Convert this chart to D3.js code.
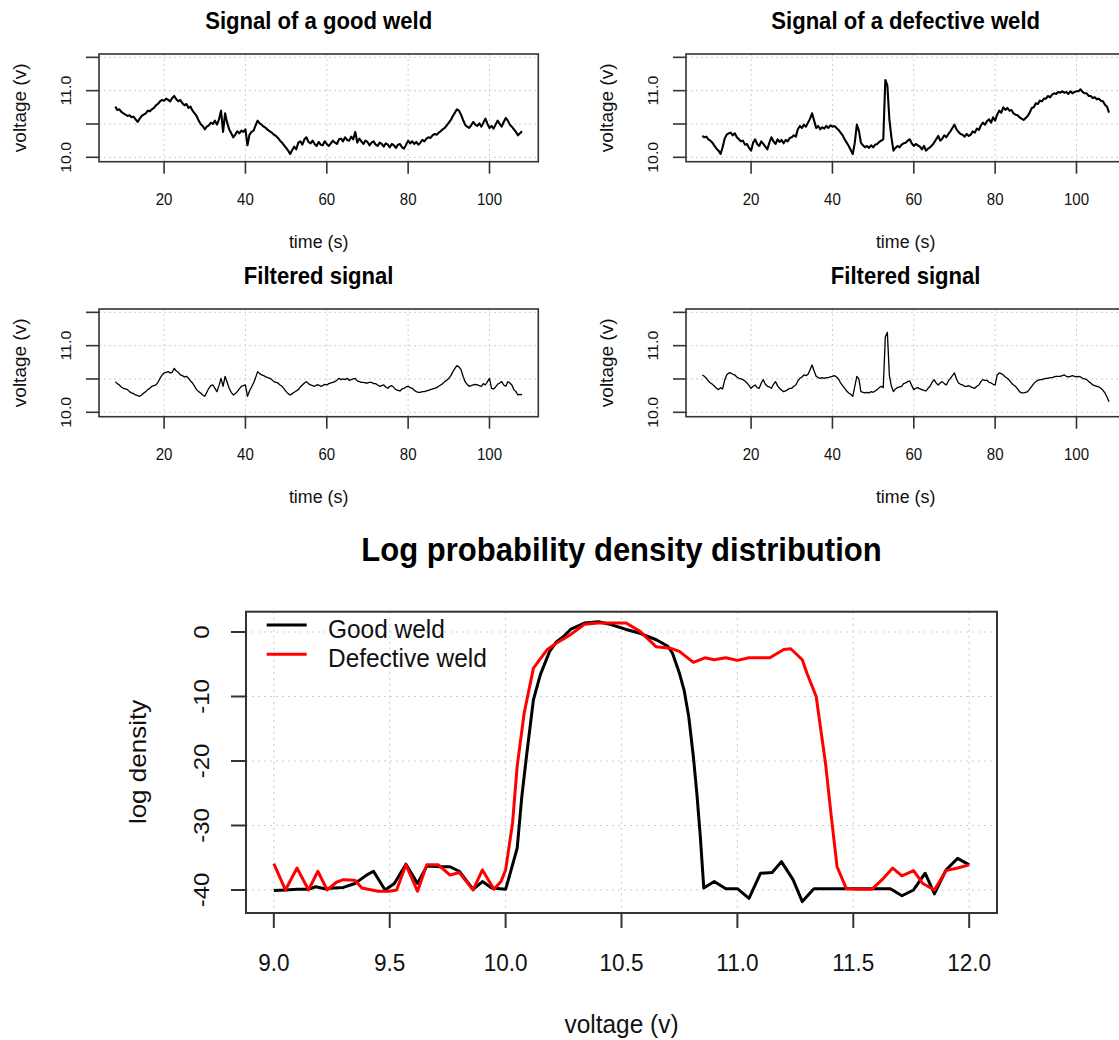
<!DOCTYPE html>
<html><head><meta charset="utf-8">
<script src="https://cdn.jsdelivr.net/npm/d3@7/dist/d3.min.js"></script>
<style>body{margin:0;background:#fff}svg{display:block}</style>
</head><body>
<script>
// ---------------- DATA ----------------
const timeStart = 8, timeStep = 0.5;            // sampling of the signals (s)
const timeTicks = [20, 40, 60, 80, 100];
const voltTicks = [10.0, 10.5, 11.0, 11.5];
const voltTickLabels = ["10.0", "", "11.0", ""];

const goodRaw = [10.76,10.71,10.72,10.68,10.66,10.64,10.62,10.63,10.60,
10.61,10.57,10.53,10.58,10.62,10.64,10.66,10.70,
10.69,10.72,10.74,10.78,10.80,10.84,10.86,10.85,
10.88,10.86,10.84,10.89,10.92,10.87,10.84,10.86,
10.81,10.78,10.80,10.74,10.76,10.70,10.66,10.62,
10.55,10.50,10.47,10.42,10.46,10.48,10.52,10.50,
10.55,10.49,10.57,10.70,10.38,10.66,10.52,10.42,
10.36,10.30,10.34,10.39,10.36,10.40,10.38,10.42,
10.18,10.34,10.38,10.40,10.48,10.55,10.51,10.49,
10.46,10.44,10.41,10.39,10.37,10.34,10.32,10.29,
10.25,10.22,10.18,10.14,10.10,10.05,10.11,10.16,
10.12,10.22,10.24,10.19,10.27,10.30,10.23,10.21,
10.25,10.20,10.17,10.23,10.19,10.18,10.24,10.20,
10.17,10.21,10.25,10.22,10.20,10.27,10.28,10.24,
10.30,10.26,10.25,10.31,10.27,10.38,10.22,10.28,
10.24,10.20,10.25,10.23,10.18,10.22,10.24,10.19,
10.17,10.22,10.20,10.16,10.21,10.19,10.15,10.20,
10.18,10.14,10.19,10.20,10.15,10.13,10.19,10.25,
10.21,10.24,10.20,10.23,10.19,10.22,10.26,10.24,
10.28,10.30,10.29,10.33,10.35,10.34,10.37,10.39,
10.42,10.44,10.48,10.52,10.56,10.62,10.67,10.72,
10.70,10.64,10.56,10.49,10.46,10.44,10.48,10.53,
10.49,10.47,10.51,10.46,10.52,10.58,10.50,10.44,
10.47,10.43,10.49,10.55,10.50,10.46,10.53,10.59,
10.55,10.49,10.46,10.42,10.38,10.33,10.36,10.39];

const defectRaw = [10.32,10.30,10.31,10.27,10.25,10.22,10.17,10.13,10.10,
10.05,10.15,10.28,10.34,10.36,10.37,10.33,10.36,
10.30,10.27,10.24,10.25,10.19,10.20,10.14,10.10,
10.22,10.27,10.20,10.17,10.24,10.20,10.16,10.12,
10.22,10.30,10.24,10.20,10.27,10.23,10.26,10.21,
10.26,10.24,10.29,10.30,10.33,10.31,10.42,10.47,
10.44,10.49,10.46,10.52,10.58,10.66,10.55,10.44,
10.47,10.42,10.45,10.43,10.47,10.44,10.48,10.46,
10.47,10.44,10.41,10.37,10.33,10.27,10.22,10.17,
10.11,10.05,10.22,10.49,10.40,10.22,10.18,10.15,
10.17,10.14,10.18,10.15,10.19,10.20,10.23,10.25,
10.27,11.16,11.08,10.57,10.30,10.10,10.14,10.17,
10.15,10.19,10.21,10.22,10.25,10.27,10.21,10.17,
10.20,10.18,10.16,10.12,10.17,10.10,10.13,10.15,
10.18,10.22,10.27,10.32,10.25,10.28,10.33,10.30,
10.35,10.39,10.44,10.49,10.42,10.38,10.35,10.34,
10.31,10.35,10.32,10.34,10.39,10.37,10.43,10.41,
10.48,10.52,10.49,10.54,10.57,10.52,10.60,10.55,
10.64,10.70,10.67,10.75,10.71,10.74,10.70,10.71,
10.66,10.64,10.63,10.60,10.58,10.56,10.59,10.62,
10.67,10.74,10.75,10.81,10.80,10.85,10.84,10.88,
10.88,10.92,10.90,10.94,10.96,10.95,10.98,10.97,
10.99,10.97,10.98,10.95,10.99,10.96,10.98,10.99,
10.99,11.02,10.98,10.96,10.96,10.92,10.92,10.89,
10.90,10.87,10.88,10.85,10.84,10.79,10.76,10.67];

const goodFiltered = [10.46,10.43,10.41,10.38,10.36,10.35,10.34,10.31,10.29,
10.28,10.26,10.25,10.24,10.26,10.29,10.31,10.34,
10.36,10.39,10.40,10.41,10.45,10.51,10.56,10.59,
10.60,10.61,10.59,10.60,10.66,10.62,10.60,10.56,
10.55,10.53,10.54,10.51,10.47,10.44,10.39,10.34,
10.31,10.29,10.26,10.24,10.30,10.36,10.40,10.41,
10.36,10.31,10.40,10.51,10.39,10.54,10.45,10.36,
10.30,10.26,10.28,10.31,10.35,10.39,10.40,10.41,
10.24,10.32,10.38,10.44,10.52,10.61,10.58,10.56,
10.55,10.53,10.52,10.51,10.49,10.46,10.45,10.44,
10.41,10.39,10.35,10.31,10.28,10.26,10.28,10.30,
10.32,10.34,10.38,10.41,10.44,10.46,10.43,10.41,
10.40,10.39,10.41,10.41,10.39,10.40,10.42,10.41,
10.43,10.44,10.45,10.46,10.48,10.51,10.49,10.50,
10.49,10.51,10.48,10.49,10.50,10.51,10.47,10.46,
10.45,10.45,10.44,10.44,10.45,10.45,10.43,10.43,
10.41,10.39,10.40,10.41,10.38,10.36,10.39,10.40,
10.37,10.34,10.33,10.32,10.35,10.36,10.38,10.39,
10.37,10.36,10.33,10.31,10.30,10.30,10.31,10.31,
10.32,10.33,10.34,10.35,10.36,10.37,10.39,10.41,
10.43,10.46,10.48,10.51,10.55,10.61,10.66,10.70,
10.68,10.64,10.54,10.46,10.42,10.39,10.40,10.41,
10.42,10.41,10.40,10.39,10.43,10.41,10.46,10.51,
10.36,10.35,10.38,10.42,10.44,10.46,10.41,10.39,
10.46,10.44,10.41,10.34,10.31,10.26,10.27,10.26];

const defectFiltered = [10.56,10.54,10.51,10.47,10.44,10.42,10.39,10.36,10.34,
10.37,10.35,10.48,10.56,10.59,10.59,10.57,10.56,
10.53,10.51,10.50,10.49,10.47,10.44,10.40,10.36,
10.39,10.41,10.37,10.36,10.44,10.49,10.42,10.39,
10.38,10.36,10.42,10.46,10.40,10.36,10.33,10.31,
10.32,10.34,10.36,10.36,10.39,10.41,10.47,10.51,
10.53,10.56,10.55,10.57,10.64,10.71,10.62,10.54,
10.52,10.51,10.52,10.51,10.52,10.52,10.53,10.54,
10.55,10.53,10.50,10.44,10.40,10.36,10.32,10.29,
10.27,10.24,10.39,10.54,10.50,10.31,10.30,10.29,
10.30,10.29,10.31,10.30,10.32,10.34,10.37,10.39,
10.37,11.13,11.20,10.55,10.39,10.31,10.35,10.37,
10.38,10.39,10.43,10.44,10.46,10.47,10.40,10.34,
10.36,10.37,10.35,10.34,10.33,10.32,10.36,10.39,
10.45,10.49,10.44,10.41,10.44,10.46,10.43,10.41,
10.47,10.51,10.55,10.59,10.50,10.44,10.42,10.41,
10.39,10.39,10.40,10.38,10.37,10.36,10.39,10.41,
10.46,10.49,10.48,10.48,10.45,10.44,10.42,10.41,
10.56,10.59,10.58,10.56,10.53,10.51,10.48,10.44,
10.41,10.39,10.35,10.31,10.29,10.29,10.30,10.31,
10.35,10.39,10.43,10.46,10.48,10.49,10.49,10.50,
10.51,10.51,10.52,10.52,10.53,10.54,10.54,10.54,
10.55,10.56,10.54,10.53,10.54,10.55,10.54,10.53,
10.54,10.53,10.51,10.50,10.49,10.46,10.44,10.41,
10.40,10.39,10.38,10.36,10.33,10.29,10.23,10.16];

// log probability density
const densityTicksX = [9.0, 9.5, 10.0, 10.5, 11.0, 11.5, 12.0];
const densityTickLabelsX = ["9.0","9.5","10.0","10.5","11.0","11.5","12.0"];
const densityTicksY = [0, -10, -20, -30, -40];
const densityTickLabelsY = ["0","-10","-20","-30","-40"];

const goodV = [9.00,9.05,9.10,9.15,9.18,9.22,9.26,9.30,9.35,9.40,9.43,9.48,9.52,9.57,9.62,9.66,9.72,9.76,9.80,9.86,9.90,9.94,10.00,10.02,10.05,10.07,10.09,10.12,10.15,10.19,10.22,10.25,10.28,10.34,10.40,10.45,10.52,10.58,10.65,10.70,10.72,10.75,10.77,10.79,10.81,10.825,10.84,10.855,10.90,10.95,11.00,11.05,11.10,11.15,11.19,11.24,11.28,11.33,11.40,11.50,11.60,11.66,11.71,11.76,11.81,11.85,11.90,11.95,12.00];
const goodLogDens = [-40.1,-40.0,-39.9,-39.9,-39.5,-39.8,-39.7,-39.6,-39.0,-37.7,-37.1,-40.0,-39.0,-36.0,-39.0,-36.3,-36.4,-36.4,-37.1,-39.9,-38.7,-39.7,-39.9,-37.4,-33.5,-25.5,-19.3,-10.5,-6.6,-3.0,-1.5,-0.7,0.4,1.4,1.6,1.2,0.4,-0.2,-1.2,-2.2,-3.3,-6.4,-9.0,-13.1,-19.3,-25.0,-31.7,-39.7,-38.7,-39.8,-39.8,-41.3,-37.4,-37.3,-35.6,-38.4,-41.8,-39.8,-39.8,-39.8,-39.8,-39.8,-40.9,-40.0,-37.4,-40.6,-36.9,-35.1,-36.1];

const defectV = [9.00,9.05,9.10,9.15,9.19,9.23,9.27,9.30,9.35,9.38,9.45,9.50,9.53,9.57,9.62,9.66,9.71,9.76,9.80,9.86,9.90,9.95,9.98,10.00,10.03,10.05,10.08,10.12,10.18,10.22,10.28,10.34,10.40,10.46,10.52,10.58,10.65,10.71,10.75,10.81,10.86,10.90,10.95,11.00,11.05,11.14,11.20,11.23,11.28,11.30,11.34,11.36,11.38,11.405,11.43,11.47,11.53,11.58,11.63,11.67,11.71,11.76,11.80,11.85,11.90,11.95,12.00];
const defectLogDens = [-35.9,-40.0,-36.6,-40.0,-37.1,-40.0,-38.8,-38.4,-38.5,-39.7,-40.2,-40.2,-40.0,-36.1,-40.2,-36.1,-36.1,-37.7,-37.3,-40.0,-36.9,-39.9,-38.7,-36.9,-29.6,-20.8,-12.6,-5.6,-2.7,-1.7,-0.4,1.2,1.4,1.4,1.4,0.1,-2.3,-2.5,-3.0,-4.7,-4.0,-4.3,-4.0,-4.4,-4.0,-4.0,-2.7,-2.6,-4.3,-6.4,-10.0,-15.2,-20.3,-28.6,-36.4,-39.8,-39.9,-39.9,-38.2,-36.6,-37.8,-37.0,-39.0,-40.0,-37.0,-36.6,-36.1];

const seriesNames = ["Good weld", "Defective weld"];
const seriesColors = ["#000000", "#ff0000"];

// ---------------- DRAW ----------------
const W = 1119, H = 1040, SX = 0.94;
const FONT = "'Liberation Sans', Arial, Helvetica, sans-serif";
const svg = d3.select("body").append("svg").attr("width", W).attr("height", H)
  .style("font-family", FONT);
svg.append("rect").attr("width", W).attr("height", H).attr("fill", "#fff");

function txt(g, x, y, s, size, o = {}) {
  return g.append("text")
    .attr("transform", `translate(${x},${y}) scale(${SX},1)` + (o.rot ? " rotate(-90)" : ""))
    .attr("text-anchor", o.anchor || "middle")
    .attr("font-size", size)
    .attr("font-weight", o.bold ? "bold" : "normal")
    .attr("fill", o.fill || "#111")
    .text(s);
}

function signalPanel(left, top, title, values, lw) {
  const w = 439.3, h = 107.7;
  const g = svg.append("g");
  const x = d3.scaleLinear().domain([4, 112]).range([left, left + w]);
  const y = d3.scaleLinear().domain([9.934, 11.55]).range([top + h, top]);
  // grid
  g.selectAll(".gx").data(timeTicks).join("line")
    .attr("x1", d => x(d)).attr("x2", d => x(d)).attr("y1", top).attr("y2", top + h)
    .attr("stroke", "#cfcfcf").attr("stroke-width", 1).attr("stroke-dasharray", "2,3");
  g.selectAll(".gy").data(voltTicks).join("line")
    .attr("x1", left).attr("x2", left + w).attr("y1", d => y(d)).attr("y2", d => y(d))
    .attr("stroke", "#cfcfcf").attr("stroke-width", 1).attr("stroke-dasharray", "2,3");
  // line
  const line = d3.line().x((d, i) => x(timeStart + i * timeStep)).y(d => y(d));
  g.append("path").datum(values).attr("d", line).attr("fill", "none")
    .attr("stroke", "#000").attr("stroke-width", lw).attr("stroke-linejoin", "round");
  // box
  g.append("rect").attr("x", left).attr("y", top).attr("width", w).attr("height", h)
    .attr("fill", "none").attr("stroke", "#333").attr("stroke-width", 1.6);
  // x ticks
  g.selectAll(".tx").data(timeTicks).join("line")
    .attr("x1", d => x(d)).attr("x2", d => x(d)).attr("y1", top + h).attr("y2", top + h + 12)
    .attr("stroke", "#333").attr("stroke-width", 1.6);
  timeTicks.forEach(d => txt(g, x(d), top + h + 43, String(d), 16));
  // y ticks
  g.selectAll(".ty").data(voltTicks).join("line")
    .attr("x1", left - 13).attr("x2", left).attr("y1", d => y(d)).attr("y2", d => y(d))
    .attr("stroke", "#333").attr("stroke-width", 1.6);
  voltTicks.forEach((d, i) => { if (voltTickLabels[i]) txt(g, left - 27.6, y(d), voltTickLabels[i], 16, {rot: true}); });
  // labels
  txt(g, left + w / 2, top - 25, title, 23.5, {bold: true, fill: "#000"});
  txt(g, left + w / 2, top + h + 86, "time (s)", 19);
  txt(g, left - 72.7, top + h / 2, "voltage (v)", 19, {rot: true});
}

signalPanel(99, 54, "Signal of a good weld", goodRaw, 2.1);
signalPanel(686, 54, "Signal of a defective weld", defectRaw, 2.1);
signalPanel(99, 309, "Filtered signal", goodFiltered, 1.3);
signalPanel(686, 309, "Filtered signal", defectFiltered, 1.3);

// density chart
(function () {
  const left = 246, right = 997, top = 611.7, bottom = 913;
  const g = svg.append("g");
  const x = d3.scaleLinear().domain([8.88, 12.12]).range([left, right]);
  const y = d3.scaleLinear().domain([-43.57, 3.15]).range([bottom, top]);
  g.selectAll(".gx").data(densityTicksX).join("line")
    .attr("x1", d => x(d)).attr("x2", d => x(d)).attr("y1", top).attr("y2", bottom)
    .attr("stroke", "#cfcfcf").attr("stroke-width", 1.2).attr("stroke-dasharray", "2,4");
  g.selectAll(".gy").data(densityTicksY).join("line")
    .attr("x1", left).attr("x2", right).attr("y1", d => y(d)).attr("y2", d => y(d))
    .attr("stroke", "#cfcfcf").attr("stroke-width", 1.2).attr("stroke-dasharray", "2,4");
  const series = [
    {v: goodV, l: goodLogDens, c: seriesColors[0]},
    {v: defectV, l: defectLogDens, c: seriesColors[1]}
  ];
  series.forEach(s => {
    const line = d3.line().x((d, i) => x(s.v[i])).y(d => y(d));
    g.append("path").datum(s.l).attr("d", line).attr("fill", "none")
      .attr("stroke", s.c).attr("stroke-width", 3).attr("stroke-linejoin", "round");
  });
  g.append("rect").attr("x", left).attr("y", top).attr("width", right - left).attr("height", bottom - top)
    .attr("fill", "none").attr("stroke", "#333").attr("stroke-width", 2);
  g.selectAll(".tx").data(densityTicksX).join("line")
    .attr("x1", d => x(d)).attr("x2", d => x(d)).attr("y1", bottom).attr("y2", bottom + 15)
    .attr("stroke", "#333").attr("stroke-width", 2);
  densityTicksX.forEach((d, i) => txt(g, x(d), bottom + 58, densityTickLabelsX[i], 24));
  g.selectAll(".ty").data(densityTicksY).join("line")
    .attr("x1", left - 15).attr("x2", left).attr("y1", d => y(d)).attr("y2", d => y(d))
    .attr("stroke", "#333").attr("stroke-width", 2);
  densityTicksY.forEach((d, i) => txt(g, 209, y(d), densityTickLabelsY[i], 24, {rot: true}));
  txt(g, (left + right) / 2, 561, "Log probability density distribution", 33, {bold: true, fill: "#000"});
  txt(g, (left + right) / 2, 1033, "voltage (v)", 26);
  txt(g, 146.4, 762, "log density", 26, {rot: true});
  // legend
  seriesNames.forEach((n, i) => {
    const yy = 625 + i * 29.3;
    g.append("line").attr("x1", 266.7).attr("x2", 306.7).attr("y1", yy).attr("y2", yy)
      .attr("stroke", seriesColors[i]).attr("stroke-width", 3);
    txt(g, 328, yy + 13, n, 26, {anchor: "start"});
  });
})();
</script>
</body></html>
